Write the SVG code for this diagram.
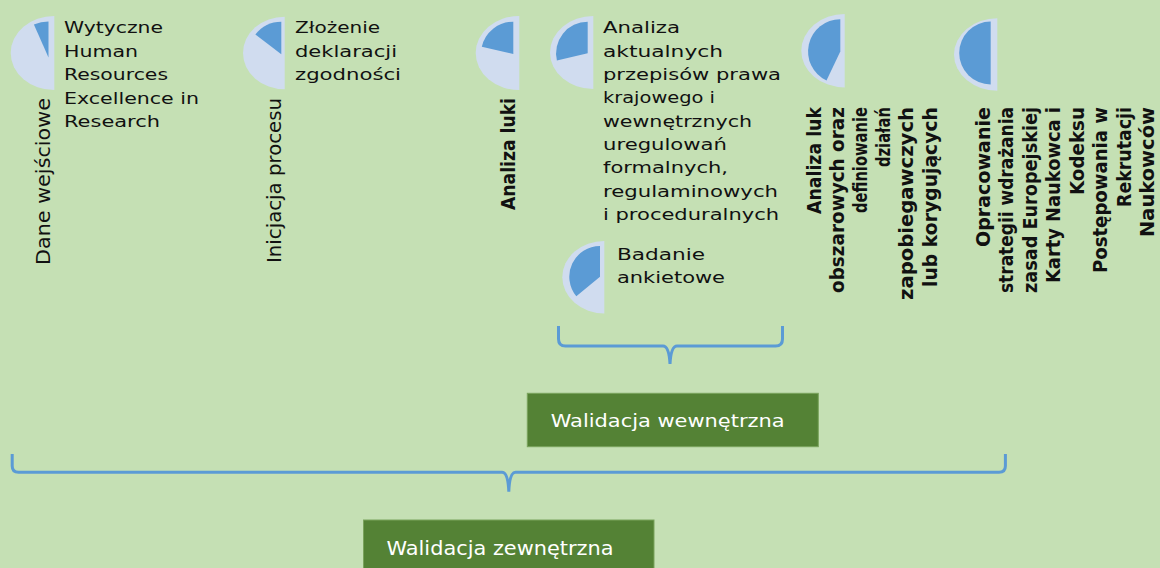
<svg xmlns="http://www.w3.org/2000/svg" width="1160" height="568" viewBox="0 0 1160 568">
<style>
.bg{fill:#c5e0b4}
.pl{fill:#d0dcef}
.pd{fill:#5b9bd5}
.t{font-family:"DejaVu Sans",sans-serif;font-size:16px;fill:#111}
.v{font-family:"DejaVu Sans",sans-serif;font-size:19px;fill:#111}
.vb{font-family:"DejaVu Sans",sans-serif;font-size:19px;font-weight:bold;fill:#111}
.box{fill:#548235;stroke:#7aa35c;stroke-width:1}
.bt{font-family:"DejaVu Sans",sans-serif;fill:#fff}
.br{fill:none;stroke:#5b9bd5;stroke-width:3}
</style>
<rect class="bg" x="0" y="0" width="1160" height="568"/>

<g id="node-dane">
<path class="pl" d="M54.3,16 A43.6 37 0 0 0 54.3,90 Z"/>
<path class="pd" d="M48.5,57.5 L48.5,21.5 A36 36 0 0 0 33.9,24.6 Z"/>
<text class="t" x="64" y="33.3" textLength="99" lengthAdjust="spacingAndGlyphs">Wytyczne</text>
<text class="t" x="64" y="56.7" textLength="74" lengthAdjust="spacingAndGlyphs">Human</text>
<text class="t" x="64" y="80" textLength="104" lengthAdjust="spacingAndGlyphs">Resources</text>
<text class="t" x="64" y="103.5" textLength="135" lengthAdjust="spacingAndGlyphs">Excellence in</text>
<text class="t" x="64" y="127" textLength="96" lengthAdjust="spacingAndGlyphs">Research</text>
<text class="v" transform="translate(50,265) rotate(-90)" textLength="167" lengthAdjust="spacingAndGlyphs">Dane wejściowe</text>
</g>

<g id="node-inicjacja">
<path class="pl" d="M284.7,16.7 A41.7 36.3 0 0 0 284.7,89.3 Z"/>
<path class="pd" d="M281.3,54.3 L281.3,21.7 A32.6 32.6 0 0 0 255.4,34.5 Z"/>
<text class="t" x="295" y="33.3" textLength="85" lengthAdjust="spacingAndGlyphs">Złożenie</text>
<text class="t" x="295" y="56.7" textLength="102" lengthAdjust="spacingAndGlyphs">deklaracji</text>
<text class="t" x="295" y="80" textLength="106" lengthAdjust="spacingAndGlyphs">zgodności</text>
<text class="v" transform="translate(281,263) rotate(-90)" textLength="165" lengthAdjust="spacingAndGlyphs">Inicjacja procesu</text>
</g>

<g id="node-analiza-luki">
<path class="pl" d="M519.3,16 A43.6 37 0 0 0 519.3,90 Z"/>
<path class="pd" d="M513.3,54 L513.3,21.7 A32.3 32.3 0 0 0 481.8,46.7 Z"/>
<text class="vb" transform="translate(515,210) rotate(-90)" textLength="112" lengthAdjust="spacingAndGlyphs">Analiza luki</text>
</g>

<g id="node-przepisy">
<path class="pl" d="M593.3,16 A43.3 36.5 0 0 0 593.3,89 Z"/>
<path class="pd" d="M587.7,53.3 L587.7,21.7 A31.6 31.6 0 0 0 556.9,60.5 Z"/>
<text class="t" x="603" y="33.3" textLength="77" lengthAdjust="spacingAndGlyphs">Analiza</text>
<text class="t" x="603" y="56.7" textLength="120" lengthAdjust="spacingAndGlyphs">aktualnych</text>
<text class="t" x="603" y="80" textLength="178" lengthAdjust="spacingAndGlyphs">przepisów prawa</text>
<text class="t" x="603" y="103.3" textLength="112" lengthAdjust="spacingAndGlyphs">krajowego i</text>
<text class="t" x="603" y="126.7" textLength="149" lengthAdjust="spacingAndGlyphs">wewnętrznych</text>
<text class="t" x="603" y="150" textLength="124" lengthAdjust="spacingAndGlyphs">uregulowań</text>
<text class="t" x="603" y="173.3" textLength="125" lengthAdjust="spacingAndGlyphs">formalnych,</text>
<text class="t" x="603" y="196.7" textLength="175" lengthAdjust="spacingAndGlyphs">regulaminowych</text>
<text class="t" x="603" y="220" textLength="176" lengthAdjust="spacingAndGlyphs">i proceduralnych</text>
</g>

<g id="node-badanie">
<path class="pl" d="M604.3,241 A42 36.2 0 0 0 604.3,313.4 Z"/>
<path class="pd" d="M600,276.7 L600,246 A30.7 30.7 0 0 0 576.3,296.2 Z"/>
<text class="t" x="617" y="260" textLength="88" lengthAdjust="spacingAndGlyphs">Badanie</text>
<text class="t" x="617" y="282.5" textLength="108" lengthAdjust="spacingAndGlyphs">ankietowe</text>
</g>

<g id="node-luki-obszarowe">
<path class="pl" d="M844.7,14 A43.4 36.7 0 0 0 844.7,87.4 Z"/>
<path class="pd" d="M840.3,51.5 L840.3,19.3 A32.2 32.2 0 0 0 826.5,80.6 Z"/>
<text class="vb" text-anchor="end" transform="translate(820.5,107) rotate(-90)" textLength="107" lengthAdjust="spacingAndGlyphs">Analiza luk</text>
<text class="vb" text-anchor="end" transform="translate(843.7,107) rotate(-90)" textLength="186" lengthAdjust="spacingAndGlyphs">obszarowych oraz</text>
<text class="vb" text-anchor="end" transform="translate(866.9,107) rotate(-90)" textLength="106" lengthAdjust="spacingAndGlyphs">definiowanie</text>
<text class="vb" text-anchor="end" transform="translate(890.1,107) rotate(-90)" textLength="60" lengthAdjust="spacingAndGlyphs">działań</text>
<text class="vb" text-anchor="end" transform="translate(913.3,107) rotate(-90)" textLength="193" lengthAdjust="spacingAndGlyphs">zapobiegawczych</text>
<text class="vb" text-anchor="end" transform="translate(936.5,107) rotate(-90)" textLength="180" lengthAdjust="spacingAndGlyphs">lub korygujących</text>
</g>

<g id="node-strategia">
<path class="pl" d="M997.3,18.3 A43.3 36.2 0 0 0 997.3,90.7 Z"/>
<path class="pd" d="M990.7,21.5 A31.5 31.5 0 0 0 990.7,84.5 Z"/>
<text class="vb" text-anchor="end" transform="translate(989.5,107) rotate(-90)" textLength="140" lengthAdjust="spacingAndGlyphs">Opracowanie</text>
<text class="vb" text-anchor="end" transform="translate(1013,107) rotate(-90)" textLength="186" lengthAdjust="spacingAndGlyphs">strategii wdrażania</text>
<text class="vb" text-anchor="end" transform="translate(1036.5,107) rotate(-90)" textLength="186" lengthAdjust="spacingAndGlyphs">zasad Europejskiej</text>
<text class="vb" text-anchor="end" transform="translate(1060,107) rotate(-90)" textLength="176" lengthAdjust="spacingAndGlyphs">Karty Naukowca i</text>
<text class="vb" text-anchor="end" transform="translate(1083.5,107) rotate(-90)" textLength="88" lengthAdjust="spacingAndGlyphs">Kodeksu</text>
<text class="vb" text-anchor="end" transform="translate(1107,107) rotate(-90)" textLength="166" lengthAdjust="spacingAndGlyphs">Postępowania w</text>
<text class="vb" text-anchor="end" transform="translate(1130.5,107) rotate(-90)" textLength="100" lengthAdjust="spacingAndGlyphs">Rekrutacji</text>
<text class="vb" text-anchor="end" transform="translate(1154,107) rotate(-90)" textLength="130" lengthAdjust="spacingAndGlyphs">Naukowców</text>
</g>

<g id="connectors">
<path class="br" d="M558.5,326 L558.5,339 Q558.5,346 565.5,346 L663,346 Q669,346 670,364 Q671,346 677,346 L775.5,346 Q782.5,346 782.5,339 L782.5,326"/>
<path class="br" d="M12.2,454 L12.2,466 Q12.2,472.3 18.5,472.3 L502,472.3 Q508,472.3 508.8,491.7 Q509.6,472.3 515.6,472.3 L999,472.3 Q1005.4,472.3 1005.4,466 L1005.4,454"/>
</g>

<g id="node-walidacja-wewnetrzna">
<rect class="box" x="527.3" y="393.3" width="291" height="53.4"/>
<text class="bt" x="550.7" y="426.7" font-size="18" textLength="234" lengthAdjust="spacingAndGlyphs">Walidacja wewnętrzna</text>
</g>

<g id="node-walidacja-zewnetrzna">
<rect class="box" x="363.5" y="520" width="290.5" height="60"/>
<text class="bt" x="386.5" y="555" font-size="20" textLength="227" lengthAdjust="spacingAndGlyphs">Walidacja zewnętrzna</text>
</g>
</svg>
